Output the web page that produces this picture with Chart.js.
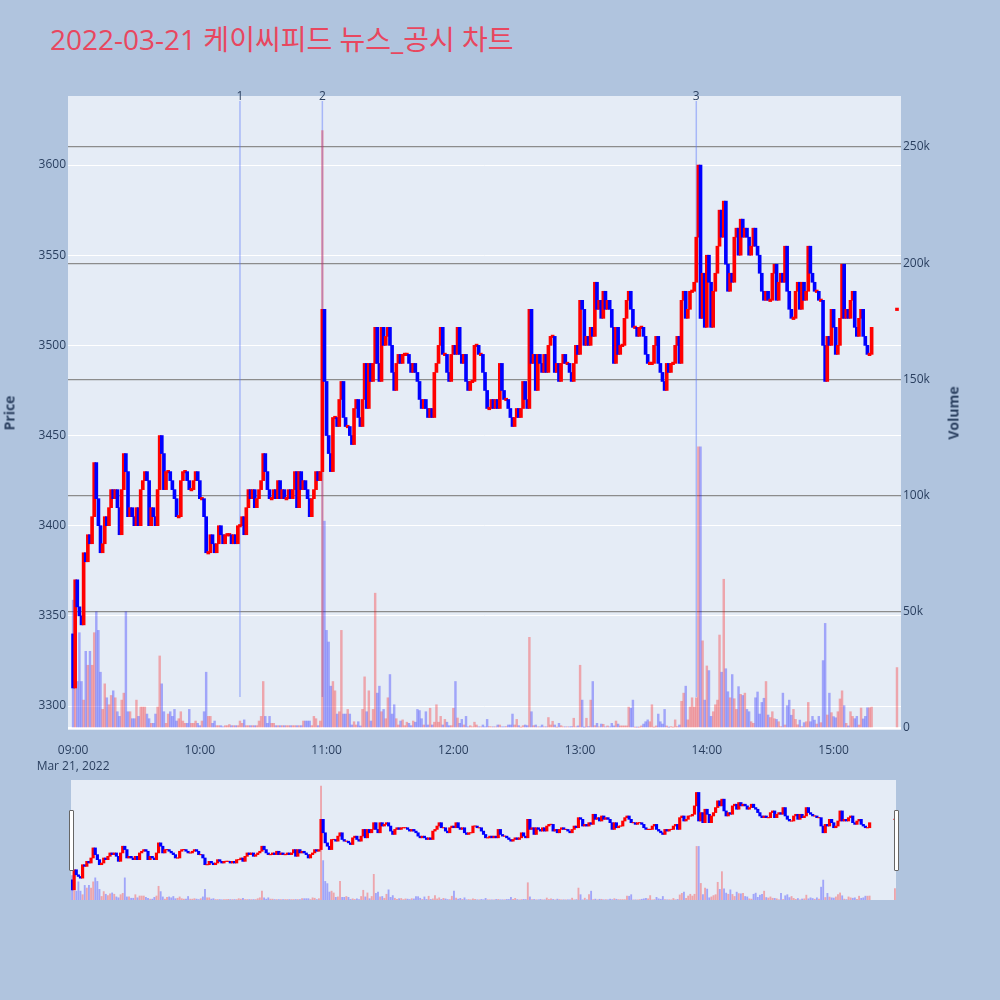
<!DOCTYPE html>
<html>
<head>
<meta charset="utf-8">
<title>케이씨피드 뉴스_공시 차트</title>
<script src="https://cdn.jsdelivr.net/npm/chart.js@4.4.1/dist/chart.umd.min.js"></script>
<style>
  html, body { margin: 0; padding: 0; background: #b0c4de; }
  #page { position: relative; width: 1000px; height: 1000px; overflow: hidden;
          font-family: 'Open Sans', 'Noto Sans CJK KR', sans-serif; color: #2a3f5f; }
  #title { position: absolute; left: 50px; top: 25px; font-size: 28px; line-height: 1; color: #e8475f; white-space: nowrap; }
  .axis-title { position: absolute; font-size: 14px; font-weight: bold; white-space: nowrap;
                transform: translate(-50%, -50%) rotate(-90deg); }
  #mainChart { position: absolute; left: 0; top: 0; }
  #sliderChart { position: absolute; left: 0; top: 780px; }
  .handle { position: absolute; top: 810px; width: 3px; height: 59px; background: #fff;
            border: 1px solid #666; border-radius: 1px; }
</style>
</head>
<body>
<div id="page">
  <div id="title">2022-03-21 케이씨피드 뉴스_공시 차트</div>
  <canvas id="mainChart" width="1000" height="775"></canvas>
  <canvas id="sliderChart" width="1000" height="120"></canvas>
  <div class="axis-title" style="left:9px; top:413px;">Price</div>
  <div class="axis-title" style="left:953px; top:413px;">Volume</div>
  <div class="handle" style="left:69px;"></div>
  <div class="handle" style="left:894px;"></div>
</div>
<script>
// one candle per minute from 09:00, open = previous close
const sessionStart = '09:00';
const firstOpen = 3340;
const closes = [
  3310, 3370, 3355, 3350, 3345, 3385, 3380, 3395, 3390, 3405,
  3435, 3415, 3400, 3385, 3390, 3405, 3400, 3410, 3420, 3415,
  3420, 3410, 3395, 3420, 3440, 3430, 3405, 3410, 3405, 3400,
  3410, 3400, 3420, 3425, 3430, 3425, 3400, 3410, 3405, 3400,
  3420, 3450, 3440, 3420, 3430, 3430, 3425, 3420, 3415, 3405,
  3405, 3425, 3430, 3430, 3425, 3420, 3420, 3425, 3430, 3425,
  3415, 3415, 3405, 3385, 3385, 3395, 3390, 3385, 3390, 3400,
  3395, 3390, 3395, 3395, 3395, 3390, 3395, 3390, 3400, 3400,
  3405, 3395, 3410, 3420, 3415, 3420, 3410, 3415, 3420, 3425,
  3440, 3430, 3420, 3415, 3415, 3420, 3415, 3425, 3415, 3420,
  3415, 3415, 3420, 3415, 3420, 3430, 3410, 3430, 3420, 3425,
  3420, 3415, 3405, 3415, 3420, 3430, 3425, 3430, 3520, 3480,
  3450, 3440, 3430, 3460, 3460, 3455, 3470, 3480, 3460, 3455,
  3455, 3450, 3445, 3465, 3470, 3460, 3455, 3470, 3490, 3465,
  3490, 3480, 3490, 3510, 3490, 3480, 3510, 3500, 3505, 3510,
  3500, 3485, 3475, 3490, 3495, 3490, 3495, 3495, 3495, 3490,
  3485, 3490, 3485, 3480, 3470, 3465, 3470, 3465, 3460, 3465,
  3460, 3485, 3490, 3500, 3510, 3495, 3495, 3485, 3480, 3495,
  3500, 3495, 3510, 3495, 3490, 3495, 3480, 3475, 3480, 3480,
  3500, 3500, 3495, 3495, 3485, 3475, 3465, 3465, 3470, 3465,
  3470, 3465, 3490, 3475, 3470, 3470, 3465, 3460, 3455, 3460,
  3465, 3460, 3465, 3480, 3470, 3465, 3520, 3490, 3495, 3475,
  3495, 3490, 3485, 3495, 3485, 3500, 3505, 3505, 3485, 3490,
  3480, 3490, 3495, 3490, 3490, 3485, 3480, 3490, 3500, 3495,
  3525, 3520, 3500, 3505, 3500, 3510, 3505, 3535, 3520, 3525,
  3515, 3530, 3520, 3525, 3520, 3510, 3490, 3510, 3495, 3500,
  3500, 3515, 3525, 3530, 3520, 3510, 3510, 3505, 3510, 3510,
  3505, 3495, 3490, 3490, 3490, 3500, 3505, 3490, 3485, 3480,
  3475, 3490, 3485, 3490, 3490, 3500, 3505, 3490, 3525, 3530,
  3515, 3520, 3530, 3530, 3535, 3560, 3600, 3515, 3540, 3510,
  3550, 3535, 3510, 3530, 3540, 3555, 3575, 3560, 3580, 3545,
  3530, 3540, 3535, 3560, 3565, 3550, 3570, 3560, 3565, 3560,
  3550, 3555, 3565, 3555, 3550, 3540, 3530, 3525, 3530, 3525,
  3525, 3540, 3545, 3525, 3535, 3540, 3535, 3555, 3530, 3520,
  3515, 3515, 3530, 3535, 3520, 3535, 3525, 3530, 3555, 3540,
  3535, 3530, 3530, 3525, 3525, 3500, 3480, 3505, 3500, 3520,
  3510, 3495, 3500, 3515, 3545, 3515, 3520, 3515, 3525, 3530,
  3510, 3505, 3515, 3520, 3505, 3500, 3495, 3495, 3510
];
// thousands of shares per minute
const volumesK = [
  55, 20, 20, 41, 20, 12, 33, 27, 33, 27,
  41, 50, 42, 24, 8, 19, 13, 10, 14, 16,
  13, 7, 5, 12, 15, 50, 7, 7, 4, 4,
  12, 5, 9, 9, 9, 6, 4, 2, 2, 6,
  9, 31, 19, 7, 2, 6, 7, 5, 8, 3,
  4, 7, 3, 2, 2, 8, 2, 2, 3, 2,
  1, 3, 7, 24, 5, 5, 2, 3, 1, 1,
  1, 0.5, 1, 1, 1.5, 1, 1, 1, 1, 3,
  2, 3.5, 1, 1, 1, 1, 1, 1, 3, 5,
  20, 5, 2, 5, 2, 2, 1, 1, 1, 1,
  1, 1, 1, 1, 1, 1, 1, 1, 1, 3,
  3, 3, 3, 1, 5, 4, 1, 3, 257, 89,
  42, 37, 18, 20, 16, 6, 7, 42, 6, 6,
  8, 6, 1.3, 2.7, 1.3, 2.7, 0.9, 8, 22, 7,
  16, 3, 8, 58, 15, 18, 7, 8, 4, 13,
  23, 6, 10, 4, 1.3, 3, 3.5, 1, 2.5, 2,
  1, 3, 2.5, 8, 7.5, 4, 1.3, 7, 1.3, 8.5,
  1.3, 2.5, 10, 2.5, 5, 1.3, 3.7, 2.5, 1, 1,
  8.5, 20, 4.3, 2, 3.7, 1.3, 5, 0.5, 1, 0.5,
  2.5, 1.3, 0.5, 0.5, 1.3, 0.5, 3.7, 0.6, 0.5, 0.5,
  0.5, 1.3, 1.3, 0.5, 0.5, 0.6, 1.3, 1.3, 6, 1.3,
  3.7, 1, 0.3, 1, 1.3, 1, 39, 7, 1, 1.3,
  0.5, 0.5, 1.3, 0.5, 0.5, 4.5, 1.3, 2.9, 1.3, 0.3,
  2, 1, 0.5, 0.5, 0.5, 0.5, 0.6, 4.2, 0.5, 0.9,
  27, 12, 0.3, 4.2, 0.6, 12, 20, 1, 2, 0.5,
  1.7, 1.6, 0.5, 0.9, 0.5, 2, 0.9, 3, 1.7, 0.9,
  0.9, 0.9, 0.9, 9, 8.5, 12, 0.3, 0.3, 0.3, 0.9,
  1.7, 2.7, 3.5, 2.7, 10, 0.3, 0.9, 6, 2.7, 1.7,
  8, 0.9, 0.3, 0.6, 0.3, 3.5, 0.6, 1.3, 11.5, 15,
  18, 3.5, 9, 13, 9, 13, 121, 121, 37.5, 12,
  26.7, 24.7, 5, 7, 10, 12, 40, 24, 64, 25.5,
  15.6, 13, 23, 12.6, 8, 17.8, 14.5, 14, 15, 8,
  7, 2.7, 2, 13, 15.5, 6, 11, 12.8, 20, 5.6,
  4.5, 7, 4, 3.7, 2.7, 0.6, 15, 1.3, 9.6, 12,
  5.5, 8, 3.7, 1.4, 3.4, 0.6, 2.3, 2.7, 11, 2.7,
  5, 3.4, 1.7, 5, 2.3, 29, 45, 5.6, 15, 6.6,
  4.9, 4.4, 7, 12.5, 16, 9.6, 2, 0.9, 7, 5,
  4, 5, 1.3, 8.6, 3.9, 5, 8.7, 8.7, 9
];
// closing auction
const auctionTime = '15:30';
const auctionOpen = 3520;
const auctionClose = 3520;
const auctionVolumeK = 26;

const priceTicks = [3300, 3350, 3400, 3450, 3500, 3550, 3600];
const volumeTicksK = [0, 50, 100, 150, 200, 250];
const timeTicks = ['09:00', '10:00', '11:00', '12:00', '13:00', '14:00', '15:00'];
const dateLabel = 'Mar 21, 2022';
const newsTimes = ['10:19', '10:58', '13:55'];
const newsLabels = ['1', '2', '3'];
const newsLineLow = 3305;

const ChartPage = {
  upColor: '#ff0000',
  downColor: '#0000ff',
  upVol: 'rgba(255, 0, 0, 0.3)',
  downVol: 'rgba(0, 0, 255, 0.3)',
  plotBg: '#e5ecf6',
  ink: '#2a3f5f',

  toMinute: function (t) {
    const p = t.split(':'), s = sessionStart.split(':');
    return (+p[0] * 60 + +p[1]) - (+s[0] * 60 + +s[1]);
  },

  init: function () {
    Chart.defaults.font.family = "'Open Sans', 'Noto Sans CJK KR', sans-serif";
    Chart.defaults.font.size = 12;
    Chart.defaults.color = this.ink;
    this.series = this.buildSeries();
    this.drawMain();
    this.drawSlider();
  },

  buildSeries: function () {
    const self = this;
    const bodies = [], bodyColors = [], vols = [], volColors = [];
    const push = function (x, o, c, v) {
      const lo = Math.min(o, c), hi = Math.max(o, c);
      bodies.push({ x: x, y: lo === hi ? [lo - 0.7, hi + 0.7] : [lo, hi] });
      const up = c >= o;
      bodyColors.push(up ? self.upColor : self.downColor);
      vols.push({ x: x, y: v });
      volColors.push(up ? self.upVol : self.downVol);
    };
    let open = firstOpen;
    closes.forEach(function (c, i) {
      push(i, open, c, volumesK[i]);
      open = c;
    });
    push(this.toMinute(auctionTime), auctionOpen, auctionClose, auctionVolumeK);
    return { bodies: bodies, bodyColors: bodyColors, vols: vols, volColors: volColors };
  },

  datasets: function (bodyW, volW) {
    const s = this.series;
    return [
      { data: s.bodies, backgroundColor: s.bodyColors, yAxisID: 'y', barThickness: bodyW, grouped: false, order: 0 },
      { data: s.vols, backgroundColor: s.volColors, yAxisID: 'yVol', barThickness: volW, grouped: false, order: 2 }
    ];
  },

  drawMain: function () {
    const self = this;
    const bgPlugin = {
      id: 'plotBg',
      beforeDraw: function (chart) {
        const a = chart.chartArea, ctx = chart.ctx;
        ctx.save();
        ctx.fillStyle = self.plotBg;
        ctx.fillRect(a.left, a.top, a.right - a.left, a.bottom - a.top);
        ctx.restore();
      }
    };
    const newsPlugin = {
      id: 'newsLines',
      beforeDatasetsDraw: function (chart) {
        const ctx = chart.ctx, x = chart.scales.x, y = chart.scales.y;
        ctx.save();
        ctx.strokeStyle = 'rgba(90, 120, 250, 0.45)';
        ctx.lineWidth = 1.5;
        newsTimes.forEach(function (t) {
          const px = x.getPixelForValue(self.toMinute(t));
          ctx.beginPath();
          ctx.moveTo(px, chart.chartArea.top + 5);
          ctx.lineTo(px, y.getPixelForValue(newsLineLow));
          ctx.stroke();
        });
        ctx.restore();
      },
      afterDraw: function (chart) {
        const ctx = chart.ctx, x = chart.scales.x;
        ctx.save();
        ctx.fillStyle = self.ink;
        ctx.font = "12px 'Open Sans', sans-serif";
        ctx.textAlign = 'center';
        ctx.textBaseline = 'middle';
        newsTimes.forEach(function (t, i) {
          ctx.fillText(newsLabels[i], x.getPixelForValue(self.toMinute(t)), chart.chartArea.top + 1);
        });
        ctx.restore();
      }
    };

    new Chart(document.getElementById('mainChart'), {
      type: 'bar',
      data: { datasets: this.datasets(3, 1.8) },
      options: {
        responsive: false,
        animation: false,
        layout: { padding: { top: 96, left: 0, right: 0, bottom: 0 } },
        plugins: { legend: { display: false }, tooltip: { enabled: false } },
        scales: {
          x: {
            type: 'linear', offset: false, min: -2.4, max: 391.9,
            grid: { display: false }, border: { display: false },
            afterFit: function (scale) { scale.height = 45; },
            afterBuildTicks: function (scale) {
              scale.ticks = timeTicks.map(function (t) { return { value: self.toMinute(t) }; });
            },
            ticks: {
              autoSkip: false, maxRotation: 0, padding: 4,
              font: { size: 12, lineHeight: 1.35 },
              callback: function (v, i) { return i === 0 ? [timeTicks[i], dateLabel] : timeTicks[i]; }
            }
          },
          y: {
            position: 'left', min: 3286.7, max: 3638.3,
            border: { display: false },
            grid: { color: '#ffffff', lineWidth: 1, drawTicks: false },
            afterFit: function (scale) { scale.width = 68; },
            afterBuildTicks: function (scale) {
              scale.ticks = priceTicks.map(function (v) { return { value: v }; });
            },
            ticks: { padding: 2, callback: function (v) { return String(v); } }
          },
          yVol: {
            position: 'right', min: -0.86, max: 271.9,
            border: { display: false },
            grid: {
              drawTicks: false,
              color: function (c) { return c.tick && c.tick.value === 0 ? '#ffffff' : '#8c8c8c'; },
              lineWidth: function (c) { return c.tick && c.tick.value === 0 ? 2 : 1.2; }
            },
            afterFit: function (scale) { scale.width = 99; },
            afterBuildTicks: function (scale) {
              scale.ticks = volumeTicksK.map(function (v) { return { value: v }; });
            },
            ticks: {
              padding: 2,
              callback: function (v) { return v === 0 ? '0' : v + 'k'; }
            }
          }
        }
      },
      plugins: [bgPlugin, newsPlugin]
    });
  },

  drawSlider: function () {
    const self = this;
    new Chart(document.getElementById('sliderChart'), {
      type: 'bar',
      data: { datasets: this.datasets(2.5, 1.2) },
      options: {
        responsive: false,
        animation: false,
        layout: { padding: { top: 0, left: 71, right: 104, bottom: 0 } },
        plugins: { legend: { display: false }, tooltip: { enabled: false } },
        scales: {
          x: { type: 'linear', offset: false, min: -0.5, max: 390.5, display: false },
          y: { min: 3280, max: 3637, display: false },
          yVol: { min: 0, max: 271, display: false }
        }
      },
      plugins: [{
        id: 'sliderBg',
        beforeDraw: function (chart) {
          const a = chart.chartArea, ctx = chart.ctx;
          ctx.save();
          ctx.fillStyle = self.plotBg;
          ctx.fillRect(a.left, a.top, a.right - a.left, a.bottom - a.top);
          ctx.restore();
        }
      }]
    });
  }
};

ChartPage.init();
</script>
</body>
</html>
